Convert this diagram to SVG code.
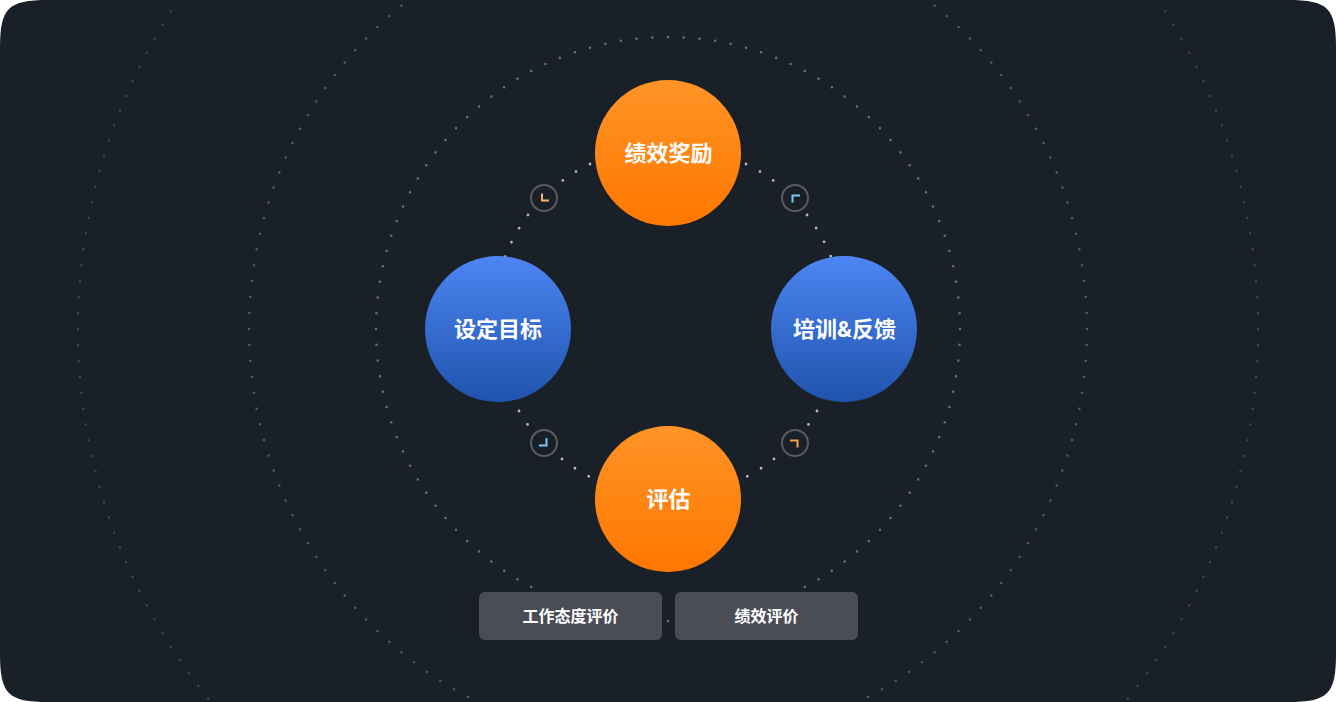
<svg xmlns="http://www.w3.org/2000/svg" width="1336" height="702" viewBox="0 0 1336 702">
<style>
.ring{fill:none;stroke-linecap:round;stroke-dasharray:0 1;stroke-width:2.5}
.link{fill:none;stroke:#b6b8bc;stroke-width:2.8;stroke-linecap:round;stroke-dasharray:0 15.9}
.badge{fill:#1a2028;stroke:#5a5c60;stroke-width:2}
.chev{fill:none;stroke-width:2}
.big{font-family:Inter,"Noto Sans CJK SC",sans-serif;font-weight:700;font-size:22px;fill:#fff;text-anchor:middle}
.small{font-family:Inter,"Noto Sans CJK SC",sans-serif;font-weight:700;font-size:16px;fill:#fff;text-anchor:middle}
.btn{fill:#4a4d55}
</style>
<defs>
<linearGradient id="o" x1="0" y1="0" x2="0" y2="1"><stop offset="0" stop-color="#ff9426"/><stop offset="1" stop-color="#ff7700"/></linearGradient>
<linearGradient id="b" x1="0" y1="0" x2="0" y2="1"><stop offset="0" stop-color="#4d86f3"/><stop offset="1" stop-color="#1f53ad"/></linearGradient>
</defs>
<rect width="1336" height="702" fill="#fff"/>
<path d="M48 0H1288C1328 0 1336 8 1336 48V654C1336 694 1328 702 1288 702H48C8 702 0 694 0 654V48C0 8 8 0 48 0Z" fill="#1a2028"/>
<g id="rings">
<circle class="ring" cx="668" cy="329" r="292" pathLength="116" stroke="#6e7279"/>
<circle class="ring" cx="668" cy="329" r="419" pathLength="164" stroke="#565a61"/>
<circle class="ring" cx="668" cy="329" r="590" pathLength="232" stroke="#41454c"/>
</g>
<g id="connectors">
<path class="link" d="M590 164A175 175 0 0 0 562 181"/>
<path class="link" d="M528 215A175 175 0 0 0 505 257"/>
<path class="link" d="M746 164A175 175 0 0 1 774 181"/>
<path class="link" d="M807 215A175 175 0 0 1 831 257"/>
<path class="link" d="M519 411A175 175 0 0 0 528 425"/>
<path class="link" d="M562 459A175 175 0 0 0 590 477"/>
<path class="link" d="M817 411A175 175 0 0 1 808 425"/>
<path class="link" d="M774 459A175 175 0 0 1 746 477"/>
</g>
<g id="badge-tl"><circle class="badge" cx="544" cy="198" r="13"/><path class="chev" stroke="#ffb066" d="M542 193.500V200.500H549"/></g>
<g id="badge-tr"><circle class="badge" cx="795" cy="198" r="13"/><path class="chev" stroke="#7cc8f8" d="M792.500 202.500V195.500H800"/></g>
<g id="badge-bl"><circle class="badge" cx="544" cy="443" r="13"/><path class="chev" stroke="#7cc8f8" d="M546.500 438V445.500H539"/></g>
<g id="badge-br"><circle class="badge" cx="795" cy="443" r="13"/><path class="chev" stroke="#ffa040" d="M790 440.500H797.500V447.500"/></g>
<g id="node-top"><circle cx="668" cy="153" r="73" fill="url(#o)"/><text class="big" x="668.500" y="161">绩效奖励</text></g>
<g id="node-left"><circle cx="498" cy="329" r="73" fill="url(#b)"/><text class="big" x="498" y="337">设定目标</text></g>
<g id="node-right"><circle cx="844" cy="329" r="73" fill="url(#b)"/><text class="big" x="844.500" y="337">培训&amp;反馈</text></g>
<g id="node-bottom"><circle cx="668" cy="499" r="73" fill="url(#o)"/><text class="big" x="668.500" y="507">评估</text></g>
<g id="tag-attitude"><rect class="btn" x="479" y="592" width="183" height="48" rx="6"/><text class="small" x="570.500" y="622">工作态度评价</text></g>
<g id="tag-performance"><rect class="btn" x="675" y="592" width="183" height="48" rx="6"/><text class="small" x="766.500" y="622">绩效评价</text></g>
</svg>
